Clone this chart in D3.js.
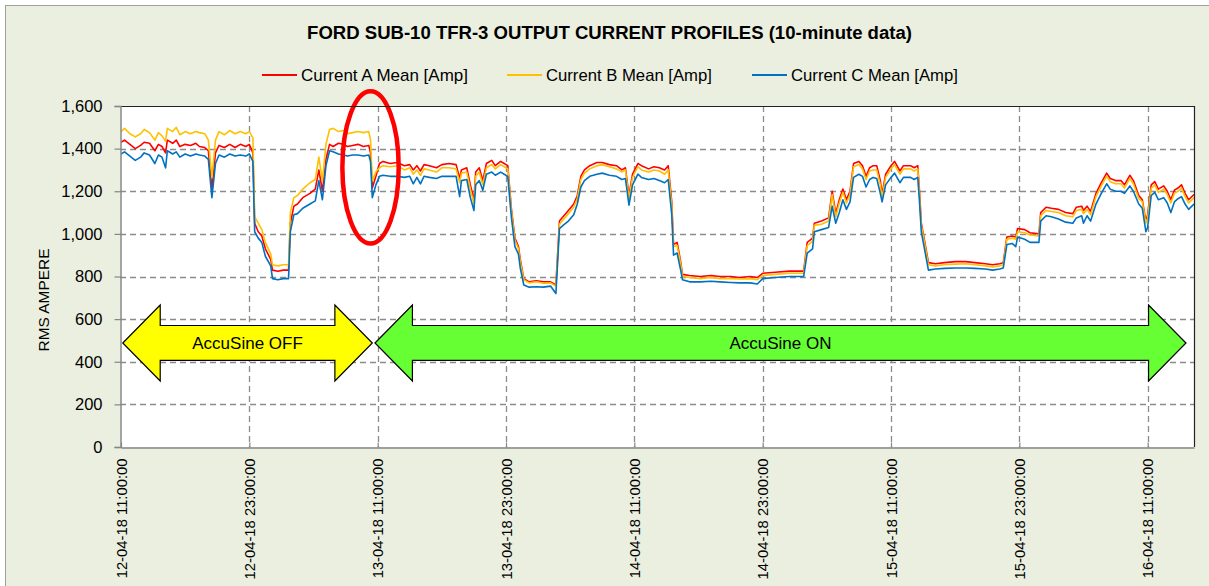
<!DOCTYPE html>
<html><head><meta charset="utf-8">
<script src="https://cdn.jsdelivr.net/npm/d3@7"></script>
<style>
body{margin:0;background:#fff;}
svg{display:block;}
text{font-family:'Liberation Sans',Arial,sans-serif;fill:#000;}
</style>
</head><body>
<svg id="chart" width="1209" height="586"></svg>
<script>
// ---------------- DATA ----------------
const chartTitle = "FORD SUB-10 TFR-3 OUTPUT CURRENT PROFILES (10-minute data)";
const yAxisTitle = "RMS AMPERE";
const startTime = "12-04-18 11:00";
const endTime = "16-04-18 15:20";
const seriesNames = ["Current A Mean [Amp]", "Current B Mean [Amp]", "Current C Mean [Amp]"];
const seriesColors = ["#FF0000", "#FFC000", "#0070C0"];
const yTickValues = [0, 200, 400, 600, 800, 1000, 1200, 1400, 1600];
const xTickLabels = ["12-04-18 11:00:00", "12-04-18 23:00:00", "13-04-18 11:00:00", "13-04-18 23:00:00",
  "14-04-18 11:00:00", "14-04-18 23:00:00", "15-04-18 11:00:00", "15-04-18 23:00:00", "16-04-18 11:00:00"];

// minutes after 12-04-18 11:00
const minutesFromStart = [0,20,50,80,110,130,160,190,210,230,250,260,290,310,330,360,390,420,440,470,490,510,530,550,580,610,640,670,700,720,740,750,770,790,810,840,850,880,910,940,950,970,990,1020,1060,1090,1110,1130,1150,1170,1190,1220,1250,1270,1300,1330,1360,1390,1400,1410,1430,1450,
1470,1510,1550,1590,1620,1640,1660,1680,1700,1730,1770,1800,1840,1880,1900,1910,1940,1960,1980,1990,2010,2030,2050,2080,2100,2130,2150,2170,2190,2210,2230,2240,2260,2290,2330,2370,2410,2440,2460,2480,2510,2540,2560,2580,2600,2630,2670,2700,2740,2780,2810,2830,2850,2870,2900,2920,2960,2990,3020,3050,3070,3090,3100,3120,3140,3150,3190,3250,3310,3360,3420,3470,3530,3570,3600,3670,3750,3830,3850,3880,3890,3930,3970,3990,4010,4030,4050,4070,4090,4110,4140,4160,4180,4200,4220,4240,4260,4270,4290,4320,4340,4370,4390,4430,4450,4470,4480,4490,4510,4530,4570,4620,4680,4740,4790,4850,4890,4930,4950,4970,5000,5020,5030,5070,5100,5150,5160,5190,5220,5260,5300,5340,5360,5390,5400,5420,5440,5470,5500,5530,5550,5580,5610,5630,5660,5680,5710,5730,5750,5760,5780,5800,5820,5850,5870,5890,5910,5930,5950,5970,5990,6020];

const currentA = [1430,1440,1420,1400,1415,1430,1425,1390,1420,1410,1380,1440,1425,1440,1410,1420,1415,1425,1410,1405,1390,1210,1380,1415,1405,1420,1405,1420,1410,1420,1380,1050,1010,990,930,880,830,825,830,830,1050,1130,1140,1170,1190,1210,1300,1200,1350,1420,1410,1425,1420,1410,1415,1420,1410,1415,1380,1215,1270,1330,
1340,1330,1335,1320,1325,1300,1320,1295,1325,1320,1310,1325,1330,1325,1260,1300,1310,1230,1160,1290,1310,1250,1330,1345,1320,1340,1330,1320,1120,980,940,880,790,775,780,775,775,760,1060,1080,1110,1140,1180,1270,1300,1320,1335,1335,1325,1320,1300,1310,1180,1280,1330,1320,1305,1315,1310,1300,1320,1150,950,960,870,810,805,800,805,800,800,795,800,795,815,820,825,825,960,980,1050,1060,1075,1200,1095,1160,1210,1160,1200,1330,1340,1320,1270,1310,1320,1320,1250,1185,1280,1320,1340,1295,1320,1320,1310,1320,1200,1050,960,865,860,865,870,870,865,860,855,860,865,985,990,985,1025,1020,1005,1000,1100,1125,1120,1115,1100,1095,1125,1130,1110,1130,1105,1190,1240,1285,1260,1250,1250,1230,1275,1250,1180,1160,1060,1090,1230,1245,1210,1225,1200,1160,1205,1215,1230,1190,1160,1185];

const currentB = [1480,1495,1470,1455,1470,1490,1475,1440,1475,1460,1435,1495,1480,1500,1465,1480,1470,1480,1475,1470,1440,1265,1440,1480,1465,1485,1470,1480,1470,1480,1450,1080,1050,1020,960,905,855,850,855,855,1100,1170,1180,1210,1240,1255,1360,1250,1420,1490,1495,1480,1485,1470,1475,1480,1475,1480,1440,1250,1290,1310,
1320,1315,1320,1300,1310,1280,1300,1275,1305,1300,1290,1310,1310,1305,1240,1285,1290,1210,1140,1270,1290,1230,1310,1325,1305,1325,1315,1305,1110,970,930,870,785,770,775,768,770,755,1045,1065,1095,1125,1165,1255,1285,1305,1320,1325,1315,1305,1290,1300,1165,1265,1315,1300,1290,1300,1295,1280,1300,1130,940,945,860,800,795,790,795,790,790,788,790,785,805,810,815,815,945,965,1040,1045,1060,1185,1080,1145,1195,1145,1185,1315,1325,1305,1255,1295,1300,1300,1230,1170,1265,1305,1325,1280,1305,1305,1295,1305,1185,1040,950,855,850,855,858,860,855,850,845,850,855,975,980,975,1010,1005,995,990,1085,1110,1105,1100,1085,1080,1110,1115,1095,1115,1090,1175,1225,1270,1245,1235,1235,1215,1260,1235,1165,1150,1050,1075,1215,1230,1195,1210,1185,1145,1190,1200,1215,1175,1145,1170];

const currentC = [1375,1385,1365,1345,1360,1380,1370,1330,1370,1360,1310,1390,1375,1385,1360,1375,1365,1375,1370,1365,1350,1170,1330,1370,1360,1375,1365,1370,1365,1375,1340,1010,980,960,895,850,790,785,790,790,1010,1090,1095,1120,1140,1155,1250,1160,1320,1390,1385,1375,1370,1365,1370,1370,1365,1370,1340,1170,1230,1270,
1275,1270,1270,1265,1270,1235,1265,1235,1270,1265,1260,1270,1270,1270,1175,1250,1255,1170,1110,1230,1250,1205,1280,1290,1275,1290,1280,1270,1080,940,905,840,760,750,752,750,755,720,1025,1040,1060,1090,1140,1220,1250,1270,1280,1285,1275,1270,1255,1260,1135,1230,1280,1265,1255,1260,1250,1240,1255,1090,900,910,830,785,775,775,778,775,772,770,770,765,790,795,800,800,910,930,1010,1020,1030,1130,1050,1100,1160,1115,1150,1265,1280,1270,1220,1255,1265,1260,1190,1150,1230,1265,1285,1240,1265,1265,1255,1265,1150,1010,920,830,835,838,840,840,838,835,830,835,840,950,955,940,985,975,960,960,1060,1085,1080,1070,1055,1050,1075,1085,1050,1085,1060,1140,1190,1235,1210,1200,1200,1190,1225,1200,1140,1120,1010,1030,1180,1195,1160,1170,1145,1100,1150,1165,1175,1140,1115,1140];

// annotation arrows (time span in minutes, centre value and sizes in amperes)
const arrowLabels = ["AccuSine OFF", "AccuSine ON"];
const arrowFills = ["#FFFF00", "#66FF33"];
const arrowStartMin = [10, 1425];
const arrowEndMin = [1410, 5975];
const arrowCenterValue = 488;
const arrowHeadMinutes = 210;
const arrowHeadHalfValue = 178;
const arrowShaftHalfValue = 82;
// highlight ellipse (centre minutes / value, radii in minutes / amperes)
const ellipseCenter = [1400, 1312];
const ellipseRadius = [158, 357];

// ---------------- DRAW ----------------
const W = 1209, H = 586;
const svg = d3.select("#chart");
const parse = d3.timeParse("%d-%m-%y %H:%M");
const parseTick = d3.timeParse("%d-%m-%y %H:%M:%S");
const t0 = parse(startTime), t1 = parse(endTime);
const toDate = m => new Date(t0.getTime() + m * 60000);

const pL = 121, pR = 1194, pT = 106, pB = 447;
const x = d3.scaleTime().domain([t0, t1]).range([pL, pR]);
const y = d3.scaleLinear().domain([0, 1600]).range([pB, pT]);

// chart area background
svg.append("rect").attr("x", 5.5).attr("y", 5.5).attr("width", W + 20).attr("height", H + 20)
  .attr("fill", "#EBEFDF").attr("stroke", "#A0A0A0").attr("stroke-width", 1);

// plot area
svg.append("rect").attr("x", pL - 1).attr("y", pT).attr("width", pR - pL + 1).attr("height", pB - pT).attr("fill", "#fff");

const xTicks = xTickLabels.map(parseTick);

// gridlines
const grid = svg.append("g").attr("stroke", "#8C8C8C").attr("stroke-width", 1.3).attr("stroke-dasharray", "6,4");
grid.selectAll("line.h").data(yTickValues.filter(v => v > 0 && v < 1600)).join("line").attr("class", "h")
  .attr("x1", pL - 1).attr("x2", pR).attr("y1", d => Math.round(y(d)) + 0.5).attr("y2", d => Math.round(y(d)) + 0.5);
grid.selectAll("line.v").data(xTicks.slice(1)).join("line").attr("class", "v")
  .attr("x1", d => Math.round(x(d)) + 0.5).attr("x2", d => Math.round(x(d)) + 0.5).attr("y1", pT).attr("y2", pB);

// series
const seriesData = [currentA, currentB, currentC];
const line = d3.line().x(d => x(d[0])).y(d => y(d[1]));
const linesG = svg.append("g");
seriesData.forEach((vals, i) => {
  const pts = minutesFromStart.map((m, j) => [toDate(m), vals[j]]);
  linesG.append("path").datum(pts).attr("d", line).attr("fill", "none")
    .attr("stroke", seriesColors[i]).attr("stroke-width", 1.6).attr("stroke-linejoin", "round");
});

// arrows
function doubleArrow(x0, x1, yc, head, hh, sh) {
  return `M${x0},${yc} L${x0 + head},${yc - hh} L${x0 + head},${yc - sh} L${x1 - head},${yc - sh} L${x1 - head},${yc - hh} L${x1},${yc} L${x1 - head},${yc + hh} L${x1 - head},${yc + sh} L${x0 + head},${yc + sh} L${x0 + head},${yc + hh} Z`;
}
const pxPerMin = (x(toDate(60)) - x(toDate(0))) / 60;
const arrowsG = svg.append("g");
arrowLabels.forEach((lab, i) => {
  const x0 = x(toDate(arrowStartMin[i])), x1 = x(toDate(arrowEndMin[i]));
  const yc = y(arrowCenterValue);
  const hh = y(0) - y(arrowHeadHalfValue), sh = y(0) - y(arrowShaftHalfValue);
  arrowsG.append("path").attr("d", doubleArrow(x0, x1, yc, arrowHeadMinutes * pxPerMin, hh, sh))
    .attr("fill", arrowFills[i]).attr("stroke", "#000").attr("stroke-width", 1.2).attr("stroke-linejoin", "miter");
  arrowsG.append("text").attr("x", (x0 + x1) / 2).attr("y", yc + 6).attr("text-anchor", "middle")
    .style("font-size", "17px").text(lab);
});

// ellipse
svg.append("ellipse")
  .attr("cx", x(toDate(ellipseCenter[0]))).attr("cy", y(ellipseCenter[1]))
  .attr("rx", ellipseRadius[0] * pxPerMin).attr("ry", y(0) - y(ellipseRadius[1]))
  .attr("fill", "none").attr("stroke", "#FF0000").attr("stroke-width", 4.5);

// plot border: top & right dark
svg.append("line").attr("x1", pL - 1).attr("x2", pR + 0.5).attr("y1", pT + 0.5).attr("y2", pT + 0.5).attr("stroke", "#222").attr("stroke-width", 1.2);
svg.append("line").attr("x1", pR + 0.5).attr("x2", pR + 0.5).attr("y1", pT).attr("y2", pB).attr("stroke", "#222").attr("stroke-width", 1.2);

// y axis
const yAxis = svg.append("g").attr("transform", `translate(${pL - 0.5},0)`)
  .call(d3.axisLeft(y).tickValues(yTickValues).tickFormat(d3.format(",")).tickSize(6).tickPadding(12));
yAxis.select(".domain").attr("stroke", "#868686").attr("stroke-width", 1.5);
yAxis.selectAll(".tick line").attr("stroke", "#868686").attr("stroke-width", 1.2);
yAxis.selectAll(".tick text").style("font-size", "16.5px").attr("font-family", "'Liberation Sans',Arial,sans-serif").attr("fill", "#000");

// x axis
const xAxis = svg.append("g").attr("transform", `translate(0,${pB + 0.5})`)
  .call(d3.axisBottom(x).tickValues(xTicks).tickFormat(d3.timeFormat("%d-%m-%y %H:%M:%S")).tickSize(-5).tickSizeOuter(0));
xAxis.select(".domain").attr("stroke", "#868686").attr("stroke-width", 1.5);
xAxis.selectAll(".tick line").attr("stroke", "#868686").attr("stroke-width", 1.2);
xAxis.selectAll(".tick text")
  .attr("font-family", "'Liberation Sans',Arial,sans-serif").attr("fill", "#000")
  .style("font-size", "14.8px").attr("text-anchor", "end")
  .attr("transform", "translate(0,11) rotate(-90)").attr("x", 0).attr("y", 0).attr("dy", "0.36em");

// fit helper: scale font so text reaches target width
function fit(sel, target) {
  const w = sel.node().getComputedTextLength();
  const fs = parseFloat(sel.style("font-size"));
  sel.style("font-size", (fs * target / w) + "px");
}

// y axis title
const yTitle = svg.append("text").attr("transform", "translate(43,300) rotate(-90)").attr("text-anchor", "middle")
  .attr("dy", "0.36em").style("font-size", "15.5px").text(yAxisTitle);
fit(yTitle, 103);

// title
const title = svg.append("text").attr("x", 609.5).attr("y", 39).attr("text-anchor", "middle")
  .style("font-size", "17px").style("font-weight", "bold").text(chartTitle);
fit(title, 605);

// legend
const legendLineX = [262, 507, 752];
const legendTextW = [167, 166, 167];
const legendY = 75;
seriesNames.forEach((n, i) => {
  svg.append("line").attr("x1", legendLineX[i]).attr("x2", legendLineX[i] + 35).attr("y1", legendY).attr("y2", legendY)
    .attr("stroke", seriesColors[i]).attr("stroke-width", 1.8);
  const t = svg.append("text").attr("x", legendLineX[i] + 39).attr("y", legendY + 6).style("font-size", "15px").text(n);
  fit(t, legendTextW[i]);
});
</script>
</body></html>
